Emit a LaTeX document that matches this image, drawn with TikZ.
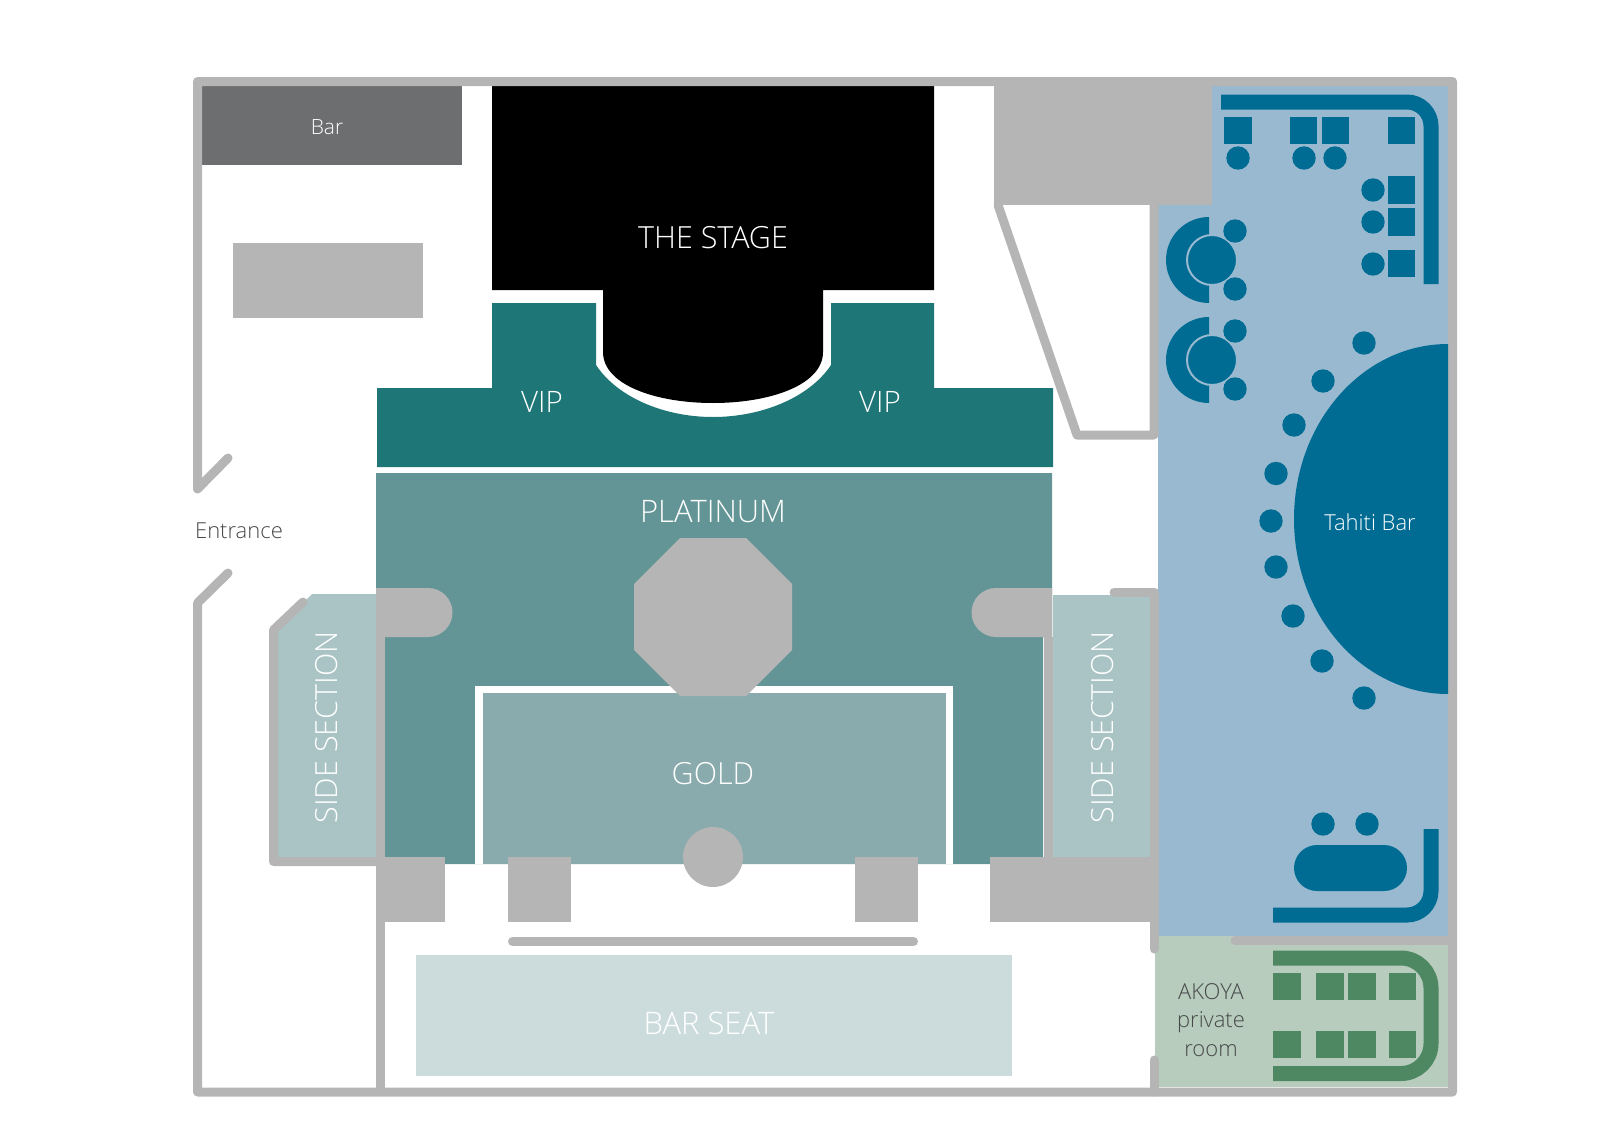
\documentclass[tikz,border=0pt]{standalone}
\usepackage{fontspec}
\setmainfont{Open Sans Light}
\definecolor{wallgray}{RGB}{180,181,180}
\definecolor{bargray}{RGB}{109,110,112}
\definecolor{vipteal}{RGB}{30,119,118}
\definecolor{platteal}{RGB}{100,149,150}
\definecolor{goldteal}{RGB}{138,171,173}
\definecolor{sidefill}{RGB}{170,196,197}
\definecolor{seatfill}{RGB}{204,220,220}
\definecolor{tahitifill}{RGB}{152,185,207}
\definecolor{tahitiblue}{RGB}{0,108,148}
\definecolor{akoyafill}{RGB}{183,204,188}
\definecolor{akoyagreen}{RGB}{78,136,98}
\definecolor{labeldark}{RGB}{70,72,74}

\tikzset{
    wall/.style={draw=wallgray, line width=9pt, line cap=round, line join=round},
    block/.style={fill=wallgray},
    lightlabel/.style={text=white, inner sep=0pt, font=\fontsize{#1}{#1}\selectfont},
    darklabel/.style={text=labeldark, inner sep=0pt, font=\fontsize{#1}{#1}\selectfont},
    tseat/.style={fill=tahitiblue},
    tcounter/.style={draw=tahitiblue, line width=15pt, rounded corners=24pt},
    acounter/.style={draw=akoyagreen, line width=15pt, rounded corners=30pt},
    ttop/.style={fill=tahitiblue, minimum size=27.5pt, inner sep=0pt},
    atop/.style={fill=akoyagreen, minimum size=27.5pt, inner sep=0pt}
}

\begin{document}
\begin{tikzpicture}[x=1pt, y=-1pt]
    \useasboundingbox (0,0) rectangle (1600,1132);

    % Fills of the rooms
    \fill[tahitifill] (1212,86) -- (1448,86) -- (1448,936) -- (1158,936) -- (1158,205) -- (1212,205) -- cycle;
    \fill[akoyafill] (1155,936) rectangle (1448,1087);
    \fill[sidefill] (312,594) -- (376,594) -- (376,857) -- (278,857) -- (278,628) -- cycle;
    \fill[sidefill] (1053,595) rectangle (1150,857);
    \fill[seatfill] (416,955) rectangle (1012,1076);

    % Platinum
    \fill[platteal] (376,473) -- (1052,473) -- (1052,637) -- (1043,637) -- (1043,864) -- (385,864) -- (385,637) -- (376,637) -- cycle;
    % Gold
    \fill[white] (475,686) rectangle (953,864);
    \fill[goldteal] (483,693) rectangle (946,864);

    % Stage
    \fill[black] (492,86) -- (934,86) -- (934,290) -- (823,290) -- (823,352)
        .. controls (823,385) and (770,403) .. (713,403)
        .. controls (656,403) and (603,385) .. (603,352) -- (603,290) -- (492,290) -- cycle;
    % VIP
    \fill[vipteal] (492,303) -- (596,303) -- (596,365)
        .. controls (618,398) and (665,417) .. (713,417)
        .. controls (761,417) and (809,398) .. (831,365) -- (831,303) -- (934,303) -- (934,388)
        -- (1053,388) -- (1053,467) -- (377,467) -- (377,388) -- (492,388) -- cycle;

    % Blocks
    \fill[bargray] (202,86) rectangle (462,165);
    \fill[block] (232.5,243) rectangle (423,318);
    \fill[block] (994,86) rectangle (1212,205);
    \fill[block] (680,538) -- (746,538) -- (792,584) -- (792,650) -- (746,696) -- (680,696) -- (634,650) -- (634,584) -- cycle;
    \fill[block] (376,588) -- (428,588) arc[start angle=-90, end angle=90, radius=24.5] -- (376,637) -- cycle;
    \fill[block] (1052,588) -- (996,588) arc[start angle=270, end angle=90, radius=24.5] -- (1052,637) -- cycle;
    \fill[block] (376,857) rectangle (445,922);
    \fill[block] (508,857) rectangle (571,922);
    \fill[block] (855,857) rectangle (918,922);
    \fill[block] (990,857) rectangle (1158,922);
    \fill[block] (713,857) circle[radius=30];
    \draw[draw=wallgray, line width=9pt, line cap=round] (512.5,941.5) -- (913.5,941.5);

    % Walls
    \draw[wall] (228,458) -- (197.5,489) -- (197.5,81.5) -- (1452.5,81.5) -- (1452.5,1092) -- (197.5,1092) -- (197.5,603) -- (228,573);
    \draw[wall] (303,602) -- (273.5,630) -- (273.5,861.5) -- (380.5,861.5);
    \draw[wall, line cap=butt] (380.5,637) -- (380.5,1092);
    \draw[wall] (998,205) -- (1077,435) -- (1154,435) -- (1154,205);
    \draw[wall, line cap=butt] (1048,637) -- (1048,857);
    \draw[wall] (1114,592) -- (1154,592) -- (1154,949);
    \draw[wall] (1154,1060) -- (1154,1092);
    \draw[wall] (1235,940.5) -- (1450,940.5);

    % Tahiti counters
    \draw[tcounter] (1221,102) -- (1431,102) -- (1431,284);
    \draw[tcounter] (1273,915) -- (1431,915) -- (1431,829);

    % Tahiti tops and seats along the counter
    \foreach \tx/\sx in {1238/1238, 1303.5/1304, 1335.5/1335, 1401.5/0} {
        \node[ttop] at (\tx,130.5) {};
        \ifnum\sx>0 \fill[tseat] (\sx,158) circle[radius=11.7]; \fi
    }
    \foreach \ty/\sy in {190/190, 222/222, 263.5/264} {
        \node[ttop] at (1401.5,\ty) {};
        \fill[tseat] (1373,\sy) circle[radius=11.7];
    }

    % Round tables
    \foreach \ty in {260,360} {
        \fill[tahitiblue] (1209,\ty-43) arc[start angle=270, end angle=90, radius=43] -- cycle;
        \fill[tahitiblue, draw=tahitifill, line width=2pt] (1212,\ty) circle[radius=25];
        \fill[tseat] (1235,\ty-29) circle[radius=11.7];
        \fill[tseat] (1235,\ty+29) circle[radius=11.7];
    }

    % Tahiti bar and its seats
    \fill[tahitiblue] (1448,344) arc[start angle=270, end angle=90, x radius=154, y radius=175] -- cycle;
    \foreach \sx/\sy in {1364/343, 1323/381, 1294/425, 1276/473.5, 1271/521, 1276/567, 1293/616, 1322/661, 1364/698, 1323/824, 1367/824} {
        \fill[tseat] (\sx,\sy) circle[radius=11.7];
    }
    \fill[tahitiblue, rounded corners=23pt] (1294,845) rectangle (1407,891);

    % Akoya
    \draw[acounter] (1273,958) -- (1431,958) -- (1431,1073.5) -- (1273,1073.5);
    \foreach \tx in {1287,1330,1362,1402.5} {
        \node[atop] at (\tx,986.5) {};
        \node[atop] at (\tx,1044.5) {};
    }

    % Labels
    \node[lightlabel=21] (barlabel) at (327,127) {Bar};
    \node[lightlabel=30.5] (stagelabel) at (713,237.5) {THE STAGE};
    \node[lightlabel=29.5] (vipleft) at (542,402) {VIP};
    \node[lightlabel=29.5] (vipright) at (880,402) {VIP};
    \node[lightlabel=31] (platlabel) at (713,512) {PLATINUM};
    \node[lightlabel=30.5] (goldlabel) at (713,774) {GOLD};
    \node[lightlabel=31] (seatlabel) at (709,1023) {BAR SEAT};
    \node[lightlabel=22] (tahitilabel) at (1370,522.5) {Tahiti Bar};
    \node[darklabel=22] (entrancelabel) at (239,531) {Entrance};
    \node[lightlabel=30.5, rotate=90] (sideleft) at (327,727.5) {SIDE SECTION};
    \node[lightlabel=30.5, rotate=90] (sideright) at (1103,727.5) {SIDE SECTION};
    \node[darklabel=22, align=center, text width=100pt] (akoyalabel) at (1211,1020) {\baselineskip=28.5pt AKOYA\\private\\room\par};
\end{tikzpicture}
\end{document}
